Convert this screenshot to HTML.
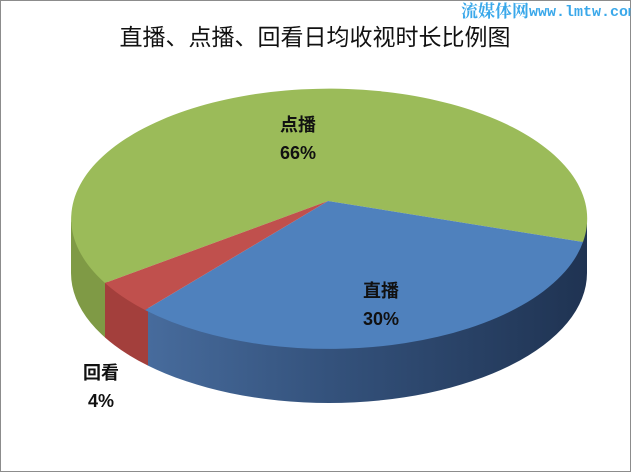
<!DOCTYPE html>
<html><head><meta charset="utf-8"><style>
body{margin:0;background:#fff}
svg{display:block}
text{font-family:"Liberation Sans","Noto Sans CJK SC",sans-serif}
</style></head><body>
<svg width="631" height="472" viewBox="0 0 631 472">
<defs>
<linearGradient id="bs" x1="0" x2="1" y1="0" y2="0">
<stop offset="0" stop-color="#4f76aa"/><stop offset="0.5" stop-color="#34527c"/><stop offset="1" stop-color="#1f3352"/>
</linearGradient>
<clipPath id="cg"><rect x="0" y="0" width="105" height="472"/></clipPath>
<clipPath id="cr"><rect x="105" y="0" width="43" height="472"/></clipPath>
<clipPath id="cb"><rect x="148" y="0" width="500" height="472"/></clipPath>
</defs>
<rect x="0.5" y="0.5" width="630" height="471" fill="#fff" stroke="#8c8c8c"/>
<text x="315" y="45" font-size="23" text-anchor="middle" fill="#111">直播、点播、回看日均收视时长比例图</text>
<text x="461" y="17" font-size="17" fill="#3aa8ea" style="font-family:'Noto Serif CJK SC',serif" font-weight="bold">流媒体网</text>
<text x="529" y="16" font-size="15" fill="#3aa8ea" style="font-family:'Liberation Mono',monospace" font-weight="bold">www.lmtw.com</text>
<path d="M71,215 A258 130 0 0 0 587,215 L587,273 A258 130 0 0 1 71,273 Z" fill="#7f9a45" clip-path="url(#cg)"/>
<path d="M71,215 A258 130 0 0 0 587,215 L587,273 A258 130 0 0 1 71,273 Z" fill="#a33f3c" clip-path="url(#cr)"/>
<path d="M71,215 A258 130 0 0 0 587,215 L587,273 A258 130 0 0 1 71,273 Z" fill="url(#bs)" clip-path="url(#cb)"/>
<path d="M328,201 L583,242 A258 130 0 1 0 105,283 Z" fill="#9bbb59"/>
<path d="M328,201 L583,242 A258 130 0 0 1 145,310 Z" fill="#4f81bd"/>
<path d="M328,201 L145,310 A258 130 0 0 1 105,283 Z" fill="#c0504d"/>
<g font-size="18" font-weight="bold" fill="#111" text-anchor="middle">
<text x="298" y="131">点播</text><text x="298" y="159">66%</text>
<text x="381" y="297">直播</text><text x="381" y="325">30%</text>
<text x="101" y="379">回看</text><text x="101" y="407">4%</text>
</g>
</svg>
</body></html>
